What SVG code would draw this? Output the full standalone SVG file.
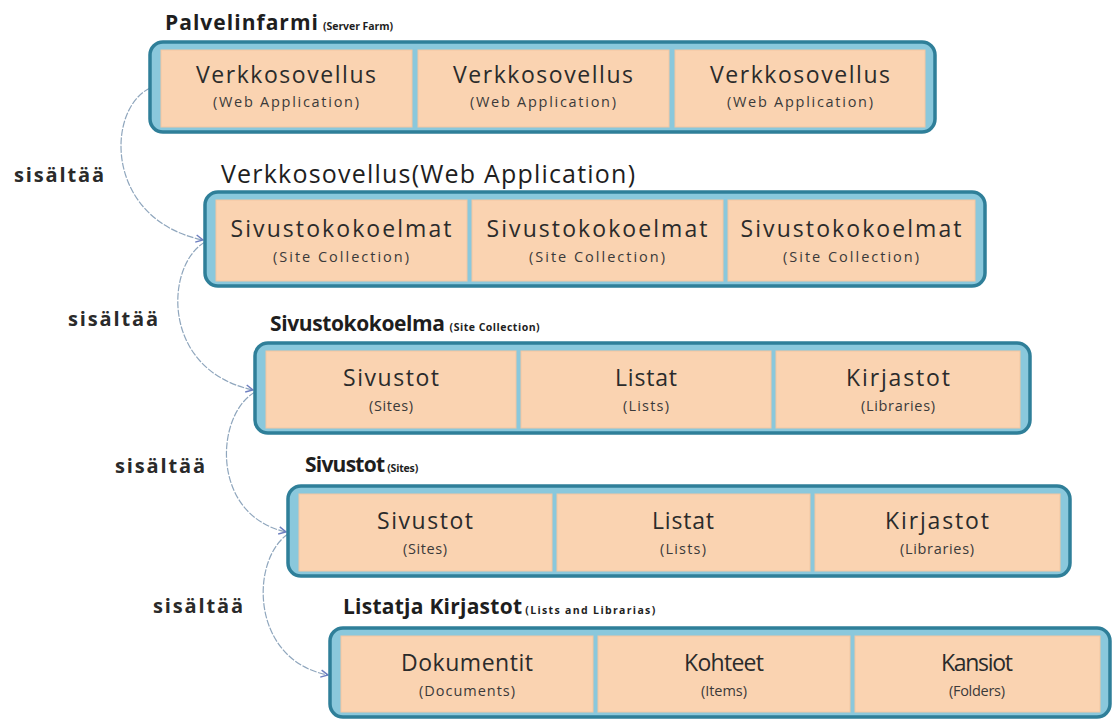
<svg xmlns="http://www.w3.org/2000/svg" width="1114" height="721" viewBox="0 0 1114 721">
<style>
.outer{fill:#8ac8dc;stroke:#2f7f99;stroke-width:3.5}
.cell{fill:#fad3b1;stroke:#f2c6a2;stroke-width:1}
.main{font-family:"Open Sans","Liberation Sans",sans-serif;font-size:23px;fill:#2b2b2b;text-anchor:middle}
.sub{font-family:"Open Sans","Liberation Sans",sans-serif;font-size:14.5px;fill:#3a3a3a;text-anchor:middle}
.title{font-family:"Open Sans","Liberation Sans",sans-serif;font-size:21px;font-weight:bold;fill:#1e1e1e}
.tsmall{font-family:"Open Sans","Liberation Sans",sans-serif;font-size:10.5px;font-weight:bold;fill:#1e1e1e}
.lbl{font-family:"Open Sans","Liberation Sans",sans-serif;font-size:20px;font-weight:bold;fill:#2a2a2a}
.conn{fill:none;stroke:#8fa6bd;stroke-width:1.2;stroke-dasharray:7 1.5}
</style>
<defs>
<marker id="arr" viewBox="0 0 10 10" refX="9" refY="5" markerWidth="9" markerHeight="9" orient="auto" markerUnits="userSpaceOnUse">
<path d="M1,1 L9,5 L1,9" fill="none" stroke="#6d7fc0" stroke-width="1.6"/>
</marker>
</defs>

<g id="connectors">
<path class="conn" d="M150,88 C105,110 105,220 203,240" marker-end="url(#arr)"/>
<path class="conn" d="M205,242 C165,265 160,370 253,390" marker-end="url(#arr)"/>
<path class="conn" d="M255,392 C215,415 210,515 286,532" marker-end="url(#arr)"/>
<path class="conn" d="M288,534 C250,560 250,660 328,675" marker-end="url(#arr)"/>
<text class="lbl" x="14" y="182" textLength="90">sisältää</text>
<text class="lbl" x="68" y="326" textLength="90">sisältää</text>
<text class="lbl" x="115" y="473" textLength="90">sisältää</text>
<text class="lbl" x="153" y="613" textLength="90">sisältää</text>
</g>

<g id="server-farm">
<text x="165" y="30"><tspan class="title" textLength="153">Palvelinfarmi</tspan><tspan class="tsmall" dx="4" textLength="70">(Server Farm)</tspan></text>
<rect class="outer" x="150" y="42" width="785" height="90" rx="13"/>
<rect class="cell" x="161" y="50" width="251" height="77"/>
<rect class="cell" x="418" y="50" width="251" height="77"/>
<rect class="cell" x="675" y="50" width="250" height="77"/>
<text class="main" x="286" y="83" textLength="180">Verkkosovellus</text>
<text class="sub" x="286" y="107" textLength="146">(Web Application)</text>
<text class="main" x="543" y="83" textLength="180">Verkkosovellus</text>
<text class="sub" x="543" y="107" textLength="146">(Web Application)</text>
<text class="main" x="800" y="83" textLength="180">Verkkosovellus</text>
<text class="sub" x="800" y="107" textLength="146">(Web Application)</text>
</g>

<g id="web-application">
<text x="221" y="183" style="font-family:'Open Sans','Liberation Sans',sans-serif;font-size:25px;fill:#1e1e1e" textLength="414">Verkkosovellus(Web Application)</text>
<rect class="outer" x="205" y="192" width="780" height="94" rx="13"/>
<rect class="cell" x="216" y="200" width="251" height="81"/>
<rect class="cell" x="472" y="200" width="251" height="81"/>
<rect class="cell" x="728" y="200" width="247" height="81"/>
<text class="main" x="341" y="237" textLength="221">Sivustokokoelmat</text>
<text class="sub" x="341" y="262" textLength="136">(Site Collection)</text>
<text class="main" x="597" y="237" textLength="221">Sivustokokoelmat</text>
<text class="sub" x="597" y="262" textLength="136">(Site Collection)</text>
<text class="main" x="851" y="237" textLength="221">Sivustokokoelmat</text>
<text class="sub" x="851" y="262" textLength="136">(Site Collection)</text>
</g>

<g id="site-collection">
<text x="270" y="331"><tspan class="title" textLength="175">Sivustokokoelma</tspan><tspan class="tsmall" dx="5" textLength="90">(Site Collection)</tspan></text>
<rect class="outer" x="255" y="343" width="775" height="90" rx="13"/>
<rect class="cell" x="266" y="351" width="250" height="77"/>
<rect class="cell" x="521" y="351" width="250" height="77"/>
<rect class="cell" x="776" y="351" width="244" height="77"/>
<text class="main" x="391" y="386" textLength="96">Sivustot</text>
<text class="sub" x="391" y="411" textLength="44">(Sites)</text>
<text class="main" x="646" y="386" textLength="62">Listat</text>
<text class="sub" x="646" y="411" textLength="46">(Lists)</text>
<text class="main" x="898" y="386" textLength="104">Kirjastot</text>
<text class="sub" x="898" y="411" textLength="74">(Libraries)</text>
</g>

<g id="sites">
<text x="305" y="472"><tspan class="title" textLength="80">Sivustot</tspan><tspan class="tsmall" dx="3" textLength="31">(Sites)</tspan></text>
<rect class="outer" x="288" y="486" width="782" height="90" rx="13"/>
<rect class="cell" x="299" y="494" width="253" height="77"/>
<rect class="cell" x="557" y="494" width="253" height="77"/>
<rect class="cell" x="815" y="494" width="245" height="77"/>
<text class="main" x="425" y="529" textLength="96">Sivustot</text>
<text class="sub" x="425" y="554" textLength="44">(Sites)</text>
<text class="main" x="683" y="529" textLength="62">Listat</text>
<text class="sub" x="683" y="554" textLength="46">(Lists)</text>
<text class="main" x="937" y="529" textLength="104">Kirjastot</text>
<text class="sub" x="937" y="554" textLength="74">(Libraries)</text>
</g>

<g id="lists-and-libraries">
<text x="343" y="614"><tspan class="title" textLength="179">Listatja Kirjastot</tspan><tspan class="tsmall" dx="3" textLength="130">(Lists and Librarias)</tspan></text>
<rect class="outer" x="330" y="628" width="780" height="89" rx="13"/>
<rect class="cell" x="341" y="636" width="252" height="76"/>
<rect class="cell" x="598" y="636" width="252" height="76"/>
<rect class="cell" x="855" y="636" width="245" height="76"/>
<text class="main" x="467" y="671" textLength="132">Dokumentit</text>
<text class="sub" x="467" y="696" textLength="96">(Documents)</text>
<text class="main" x="724" y="671" textLength="80">Kohteet</text>
<text class="sub" x="724" y="696" textLength="46">(Items)</text>
<text class="main" x="977" y="671" textLength="72">Kansiot</text>
<text class="sub" x="977" y="696" textLength="56">(Folders)</text>
</g>
</svg>
